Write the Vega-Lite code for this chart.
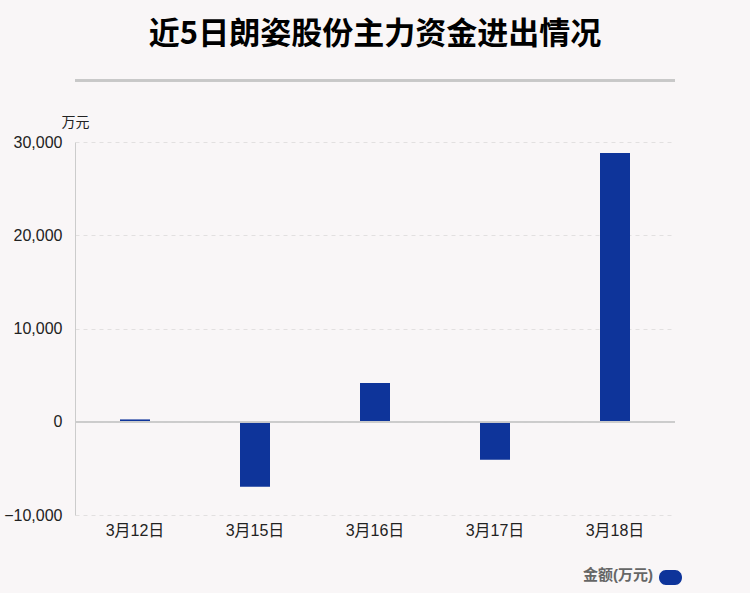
{
  "$schema": "https://vega.github.io/schema/vega-lite/v6.json",
  "width": 600,
  "height": 373,
  "autosize": {"type": "none"},
  "padding": {"left": 75, "top": 142, "right": 75, "bottom": 78},
  "background": "#f9f6f7",
  "title": {
    "text": "近5日朗姿股份主力资金进出情况",
    "fontSize": 31,
    "fontWeight": "bold",
    "font": "Noto Sans CJK SC",
    "color": "#000000",
    "anchor": "middle",
    "frame": "group",
    "baseline": "top",
    "offset": 28
  },
  "config": {
    "view": {"stroke": null},
    "font": "Liberation Sans, Noto Sans CJK SC",
    "axisY": {
      "titleAngle": 0,
      "titleX": 0,
      "titleY": -16,
      "titleAlign": "center",
      "titleBaseline": "alphabetic",
      "titleFontSize": 14,
      "titleFontWeight": "normal",
      "titleColor": "#222222",
      "labelFontSize": 16,
      "labelColor": "#222222",
      "labelPadding": 13,
      "labelExpr": "format(datum.value, ',')",
      "ticks": false,
      "domainColor": "#cccccc",
      "gridColor": "#e2e0e0",
      "gridDash": [4, 4]
    },
    "axisX": {
      "labelFontSize": 16,
      "labelColor": "#222222"
    }
  },
  "data": {
    "values": [
      {"date": "3月12日", "amount": 250, "series": "金额(万元)"},
      {"date": "3月15日", "amount": -6980, "series": "金额(万元)"},
      {"date": "3月16日", "amount": 4160, "series": "金额(万元)"},
      {"date": "3月17日", "amount": -4080, "series": "金额(万元)"},
      {"date": "3月18日", "amount": 28830, "series": "金额(万元)"}
    ]
  },
  "layer": [
    {
      "mark": {"type": "bar", "width": 30},
      "encoding": {
        "x": {
          "field": "date",
          "type": "nominal",
          "sort": null,
          "scale": {"paddingInner": 0.75, "paddingOuter": 0.375},
          "axis": {
            "title": null,
            "domain": false,
            "ticks": false,
            "labelAngle": 0,
            "labelPadding": 7
          }
        },
        "y": {
          "field": "amount",
          "type": "quantitative",
          "title": "万元",
          "scale": {"domain": [-10000, 30000], "nice": false},
          "axis": {
            "values": [-10000, 0, 10000, 20000, 30000],
            "format": ",",
            "title": "万元"
          }
        },
        "color": {
          "field": "series",
          "type": "nominal",
          "scale": {"range": ["#0e349a"]},
          "legend": {
            "orient": "none",
            "legendX": 508,
            "legendY": 424,
            "title": "金额(万元)",
            "titleOrient": "left",
            "titleFontSize": 15,
            "titleFontWeight": "bold",
            "titleColor": "#666666",
            "titlePadding": 6,
            "labelExpr": "''",
            "labelFontSize": 1,
            "symbolType": "M-0.4,-0.65L0.4,-0.65A0.6,0.65 0 0 1 0.4,0.65L-0.4,0.65A0.6,0.65 0 0 1 -0.4,-0.65Z",
            "symbolSize": 529,
            "symbolStrokeWidth": 0,
            "symbolOpacity": 1
          }
        }
      }
    },
    {
      "mark": {"type": "rule", "color": "#c8c8c8", "strokeWidth": 2, "clip": false},
      "encoding": {"y": {"datum": 36600, "type": "quantitative"}}
    },
    {
      "mark": {"type": "rule", "color": "#cccccc", "strokeWidth": 1.5},
      "encoding": {"y": {"datum": 0, "type": "quantitative"}}
    }
  ]
}
